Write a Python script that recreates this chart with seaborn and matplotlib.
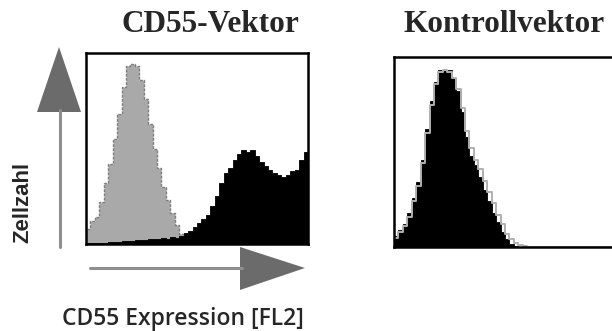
import numpy as np
import pandas as pd
import matplotlib
matplotlib.use("Agg")
import matplotlib.pyplot as plt
from matplotlib.patches import Polygon
from matplotlib.lines import Line2D
import seaborn as sns

# ---- data (relative cell counts per FL2 bin, 50 bins across the axis) ----
panel_titles = ["CD55-Vektor", "Kontrollvektor"]
x_label = "CD55 Expression [FL2]"
y_label = "Zellzahl"

cd55_control = [0.08, 0.12, 0.14, 0.22, 0.32, 0.42, 0.55, 0.68, 0.82, 0.93,
                0.94, 0.93, 0.86, 0.76, 0.63, 0.50, 0.40, 0.30, 0.23, 0.16,
                0.10, 0.05, 0.015, 0.0, 0.0, 0.0, 0.0, 0.0, 0.0, 0.0,
                0.0, 0.0, 0.0, 0.0, 0.0, 0.0, 0.0, 0.0, 0.0, 0.0,
                0.0, 0.0, 0.0, 0.0, 0.0, 0.0, 0.0, 0.0, 0.0, 0.0]
cd55_sample = [0.003, 0.003, 0.004, 0.005, 0.006, 0.008, 0.010, 0.012, 0.015, 0.017,
               0.018, 0.020, 0.020, 0.022, 0.025, 0.024, 0.028, 0.030, 0.028, 0.035,
               0.030, 0.040, 0.060, 0.070, 0.090, 0.110, 0.130, 0.150, 0.200, 0.250,
               0.320, 0.370, 0.400, 0.440, 0.470, 0.490, 0.480, 0.490, 0.460, 0.430,
               0.410, 0.390, 0.370, 0.360, 0.350, 0.360, 0.380, 0.390, 0.440, 0.480]

ctrl_control = [0.05, 0.08, 0.11, 0.16, 0.24, 0.32, 0.44, 0.60, 0.75, 0.86,
                0.92, 0.93, 0.92, 0.89, 0.83, 0.73, 0.61, 0.52, 0.46, 0.41,
                0.35, 0.29, 0.23, 0.17, 0.12, 0.07, 0.04, 0.02, 0.01, 0.005,
                0.0, 0.0, 0.0, 0.0, 0.0, 0.0, 0.0, 0.0, 0.0, 0.0,
                0.0, 0.0, 0.0, 0.0, 0.0, 0.0, 0.0, 0.0, 0.0, 0.0]
ctrl_sample = [0.06, 0.09, 0.12, 0.18, 0.26, 0.34, 0.46, 0.62, 0.77, 0.87,
               0.93, 0.93, 0.93, 0.89, 0.82, 0.71, 0.58, 0.48, 0.43, 0.37,
               0.30, 0.24, 0.18, 0.13, 0.08, 0.04, 0.015, 0.005, 0.0, 0.0,
               0.0, 0.0, 0.0, 0.0, 0.0, 0.0, 0.0, 0.0, 0.0, 0.0,
               0.0, 0.0, 0.0, 0.0, 0.0, 0.0, 0.0, 0.0, 0.0, 0.0]

sns.set_style("white")

W, H = 612, 331
fig = plt.figure(figsize=(W / 100, H / 100), dpi=100)


def fx(x):
    return x / W


def fy(y):
    return 1 - y / H


nbins = len(cd55_sample)
centers = (np.arange(nbins) + 0.5) / nbins

axes_px = [(86, 53, 308, 244), (394, 57, 616, 247)]
title_x = [210, 504]
panels = [(cd55_control, cd55_sample), (ctrl_control, ctrl_sample)]

for i, ((x0, y0, x1, y1), (ctl, smp)) in enumerate(zip(axes_px, panels)):
    ax = fig.add_axes([fx(x0), fy(y1), (x1 - x0) / W, (y1 - y0) / H])
    df_c = pd.DataFrame({"x": centers, "w": ctl})
    df_s = pd.DataFrame({"x": centers, "w": smp})
    if i == 0:
        sns.histplot(data=df_c, x="x", weights="w", bins=nbins, binrange=(0, 1),
                     element="step", fill=True, color="#a9a9a9", alpha=1,
                     edgecolor="#7d7d7d", linewidth=1.0, linestyle=(0, (2, 1)), ax=ax)
    else:
        sns.histplot(data=df_c, x="x", weights="w", bins=nbins, binrange=(0, 1),
                     element="step", fill=False, color="#b0b0b0", linewidth=1.4, ax=ax)
    sns.histplot(data=df_s, x="x", weights="w", bins=nbins, binrange=(0, 1),
                 element="step", fill=True, color="black", alpha=1,
                 edgecolor="black", linewidth=0.6, ax=ax)
    ax.set_xlim(0, 1)
    ax.set_ylim(0, 1)
    ax.set_xticks([])
    ax.set_yticks([])
    ax.set_xlabel("")
    ax.set_ylabel("")
    for s in ax.spines.values():
        s.set_visible(True)
        s.set_color("black")
        s.set_linewidth(1.8)
    fig.text(fx(title_x[i]), fy(24), panel_titles[i],
             ha="center", va="center", fontsize=22.5, fontweight="bold",
             family="Liberation Serif")

# y arrow
fig.add_artist(Line2D([fx(60), fx(60)], [fy(247), fy(110)], color="#8f8f8f",
                      linewidth=2.2, transform=fig.transFigure))
fig.add_artist(Polygon([[fx(37), fy(112)], [fx(81), fy(112)], [fx(59), fy(47)]],
                       closed=True, facecolor="#6b6b6b", edgecolor="none",
                       transform=fig.transFigure))
# x arrow
fig.add_artist(Line2D([fx(90), fx(242)], [fy(268), fy(268)], color="#8f8f8f",
                      linewidth=2.2, transform=fig.transFigure))
fig.add_artist(Polygon([[fx(240), fy(247)], [fx(240), fy(290)], [fx(305), fy(268)]],
                       closed=True, facecolor="#6b6b6b", edgecolor="none",
                       transform=fig.transFigure))

fig.text(fx(23), fy(202), y_label, rotation=90, ha="center", va="center",
         fontsize=16, fontweight="bold", family="Liberation Sans")
fig.text(fx(183), fy(319), x_label, ha="center", va="center",
         fontsize=16.5, fontweight="semibold", family="Open Sans")

fig.savefig("out.png", dpi=100, facecolor="white")
